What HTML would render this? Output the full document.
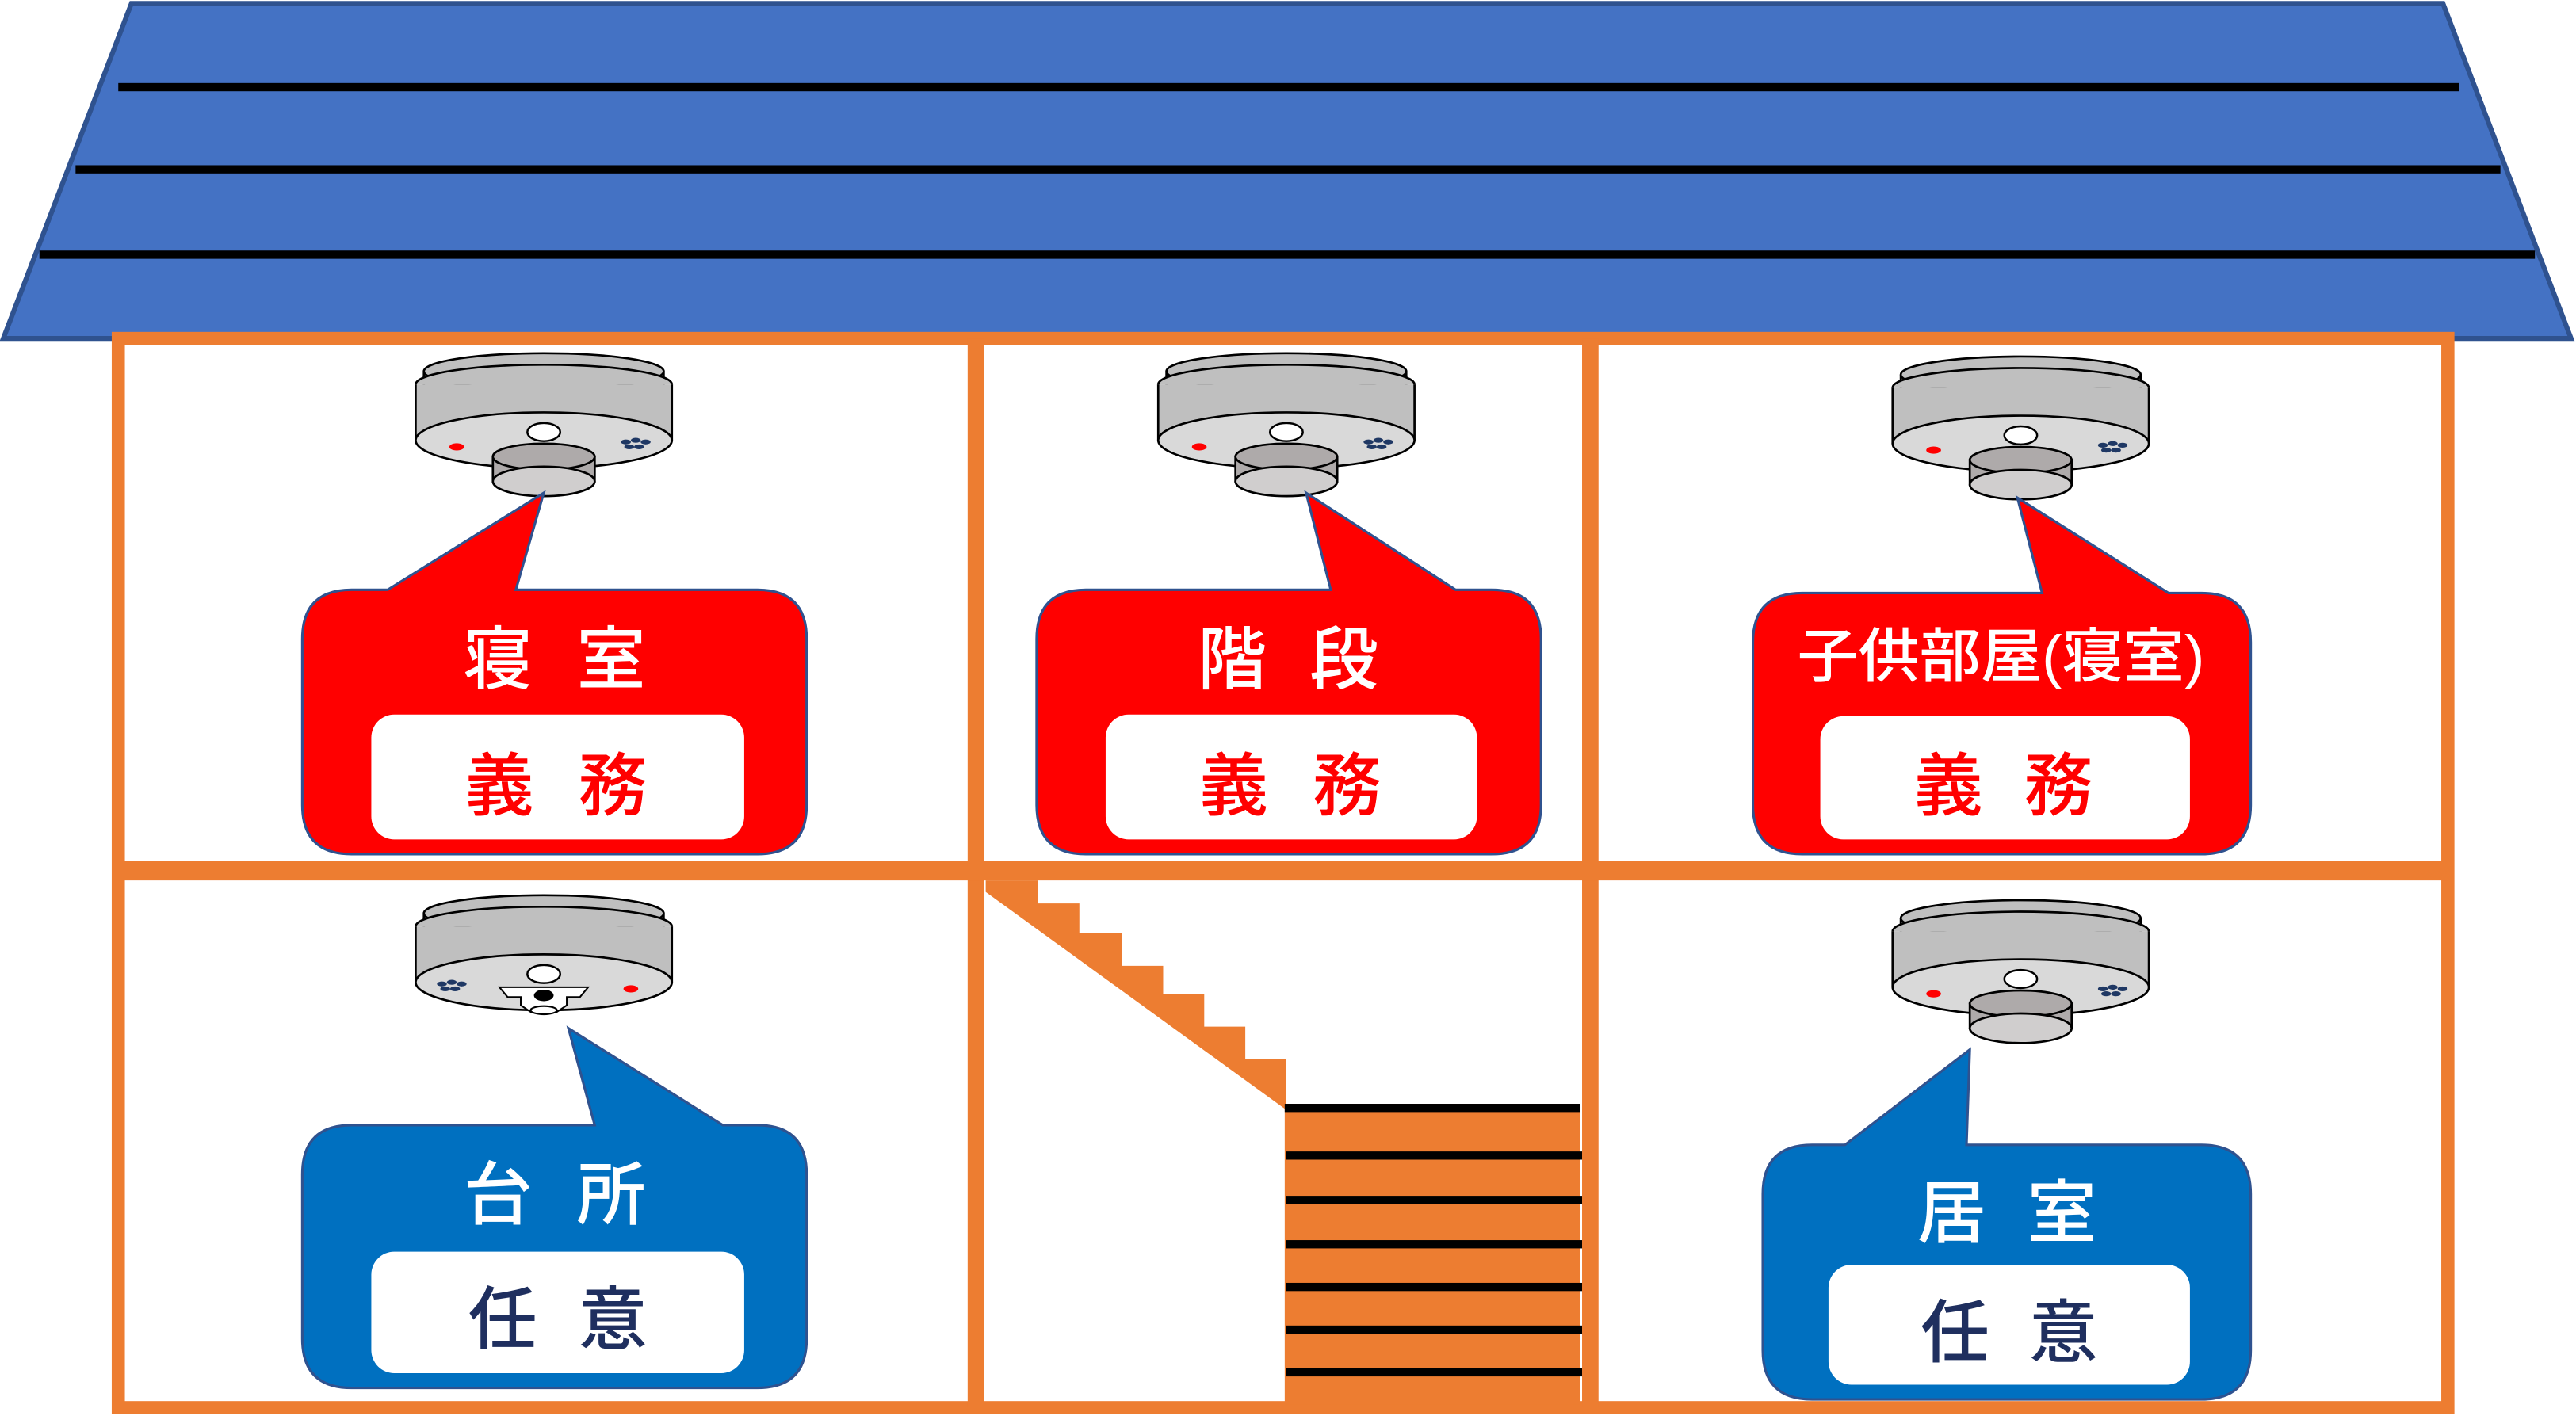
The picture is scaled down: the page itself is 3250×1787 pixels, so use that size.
<!DOCTYPE html>
<html><head><meta charset="utf-8"><style>html,body{margin:0;padding:0;background:#fff}svg{display:block}
text{font-family:"Liberation Sans","Noto Sans CJK JP",sans-serif;font-weight:500;text-anchor:middle}</style></head>
<body>
<svg width="3250" height="1787" viewBox="0 0 1568 862" xmlns="http://www.w3.org/2000/svg">
<defs>
<g id="det" stroke="#000" stroke-width="1.3">
  <path d="M-73,226 L-73,238 L73,238 L73,226 Z" fill="#bfbfbf" stroke="none"/>
  <ellipse cx="0" cy="226" rx="73" ry="11" fill="#bfbfbf"/>
  <line x1="-73" y1="226" x2="-73" y2="236"/><line x1="73" y1="226" x2="73" y2="236"/>
  <path d="M-78,234 L-78,268 L78,268 L78,234 Z" fill="#bfbfbf" stroke="none"/>
  <path d="M-78,234 A78,12 0 0 1 78,234" fill="#bfbfbf"/>
  <line x1="-78" y1="234" x2="-78" y2="268"/><line x1="78" y1="234" x2="78" y2="268"/>
  <ellipse cx="0" cy="268" rx="78" ry="17" fill="#d9d9d9"/>
</g>
<g id="sm">
  <use href="#det"/>
  <ellipse cx="0" cy="263" rx="10" ry="5.5" fill="#fff" stroke="#000" stroke-width="1.2"/>
  <ellipse cx="-53" cy="272" rx="4.5" ry="2.2" fill="#f00"/>
  <g fill="#1f3864"><ellipse cx="50" cy="269" rx="3" ry="1.5"/><ellipse cx="56" cy="268" rx="3" ry="1.5"/><ellipse cx="62" cy="269" rx="3" ry="1.5"/><ellipse cx="52" cy="272" rx="3" ry="1.5"/><ellipse cx="58" cy="272" rx="3" ry="1.5"/></g>
  <path d="M-31,278 L-31,293 L31,293 L31,278 Z" fill="#aeaaaa" stroke="#000" stroke-width="1.3"/>
  <ellipse cx="0" cy="278" rx="31" ry="8" fill="#aeaaaa" stroke="#000" stroke-width="1.3"/>
  <ellipse cx="0" cy="293" rx="31" ry="9" fill="#d0cece" stroke="#000" stroke-width="1.3"/>
</g>
</defs>
<polygon points="80,2 1487,2 1565,206 2,206" fill="#4472c4" stroke="#2f528f" stroke-width="3"/>
<rect x="72" y="50.5" width="1425" height="5" fill="#000"/>
<rect x="46" y="100.5" width="1476" height="5" fill="#000"/>
<rect x="24" y="152.5" width="1519" height="5" fill="#000"/>
<g fill="none" stroke="#ed7d31">
<rect x="72" y="206" width="1418" height="651" stroke-width="8"/>
<line x1="594" y1="206" x2="594" y2="857" stroke-width="10"/>
<line x1="968" y1="206" x2="968" y2="857" stroke-width="10"/>
<line x1="72" y1="530" x2="1490" y2="530" stroke-width="12"/>
</g>
<polygon points="600,536 632,536 632,550 657,550 657,568 683,568 683,588 708,588 708,605 733,605 733,625 758,625 758,645 783,645 783,672 962,672 962,855 782,855 782,675 600,543" fill="#ed7d31"/>
<g fill="#000"><rect x="782" y="672" width="180" height="5"/><rect x="783" y="701" width="180" height="5"/><rect x="783" y="728" width="180" height="5"/><rect x="783" y="755" width="180" height="5"/><rect x="783" y="781" width="180" height="5"/><rect x="783" y="807" width="180" height="5"/><rect x="783" y="833" width="180" height="5"/></g>
<use href="#sm" transform="translate(331,0)"/>
<use href="#sm" transform="translate(783,0)"/>
<use href="#sm" transform="translate(1230,2)"/>
<use href="#sm" transform="translate(1230,333)"/>
<g transform="translate(331,330)">
  <use href="#det"/>
  <ellipse cx="0" cy="263" rx="10" ry="5.5" fill="#fff" stroke="#000" stroke-width="1.2"/>
  <ellipse cx="53" cy="272" rx="4.5" ry="2.2" fill="#f00"/>
  <g fill="#1f3864"><ellipse cx="-62" cy="269" rx="3" ry="1.5"/><ellipse cx="-56" cy="268" rx="3" ry="1.5"/><ellipse cx="-50" cy="269" rx="3" ry="1.5"/><ellipse cx="-60" cy="272" rx="3" ry="1.5"/><ellipse cx="-54" cy="272" rx="3" ry="1.5"/></g>
  <path d="M-27,271 L27,271 L22,277 L14,277 L14,282 L8,286 L-8,286 L-14,282 L-14,277 L-22,277 Z" fill="#fff" stroke="#000" stroke-width="1"/>
  <ellipse cx="0" cy="276" rx="6" ry="3.5" fill="#000"/>
  <ellipse cx="0" cy="285" rx="8" ry="2.5" fill="#fff" stroke="#000" stroke-width="1"/>
</g>
<g stroke="#2f528f" stroke-width="1.5">
<path d="M214,359 L236,359 L331,300 L314,359 L461,359 Q491,359 491,389 L491,490 Q491,520 461,520 L214,520 Q184,520 184,490 L184,389 Q184,359 214,359 Z" fill="#f00"/>
<path d="M661,359 L810,359 L795,300 L886,359 L908,359 Q938,359 938,389 L938,490 Q938,520 908,520 L661,520 Q631,520 631,490 L631,389 Q631,359 661,359 Z" fill="#f00"/>
<path d="M1097,361 L1243,361 L1228,303 L1320,361 L1340,361 Q1370,361 1370,391 L1370,490 Q1370,520 1340,520 L1097,520 Q1067,520 1067,490 L1067,391 Q1067,361 1097,361 Z" fill="#f00"/>
<path d="M214,685 L362,685 L346,626 L440,685 L461,685 Q491,685 491,715 L491,815 Q491,845 461,845 L214,845 Q184,845 184,815 L184,715 Q184,685 214,685 Z" fill="#0070c0"/>
<path d="M1103,697 L1123,697 L1199,639 L1197,697 L1340,697 Q1370,697 1370,727 L1370,822 Q1370,852 1340,852 L1103,852 Q1073,852 1073,822 L1073,727 Q1073,697 1103,697 Z" fill="#0070c0"/>
</g>
<g fill="#fff">
<rect x="226" y="435" width="227" height="76" rx="14"/>
<rect x="673" y="435" width="226" height="76" rx="14"/>
<rect x="1108" y="436" width="225" height="75" rx="14"/>
<rect x="226" y="762" width="227" height="74" rx="14"/>
<rect x="1113" y="770" width="220" height="73" rx="14"/>
</g>
<g fill="#fff" font-size="42">
<text x="303" y="416">寝</text><text x="372" y="416">室</text>
<text x="750" y="416">階</text><text x="818" y="416">段</text>
<text x="1218" y="412" font-size="36" textLength="248" lengthAdjust="spacingAndGlyphs">子供部屋(寝室)</text>
<text x="303" y="742">台</text><text x="372" y="742">所</text>
<text x="1188" y="753">居</text><text x="1255" y="753">室</text>
</g>
<g font-size="42">
<g fill="#f00">
<text x="304" y="493">義</text><text x="373" y="493">務</text>
<text x="751" y="493">義</text><text x="820" y="493">務</text>
<text x="1186" y="493">義</text><text x="1253" y="493">務</text>
</g>
<g fill="#1f2f5f">
<text x="306" y="818">任</text><text x="373" y="818">意</text>
<text x="1190" y="826">任</text><text x="1256" y="826">意</text>
</g>
</g>
</svg>
</body></html>
